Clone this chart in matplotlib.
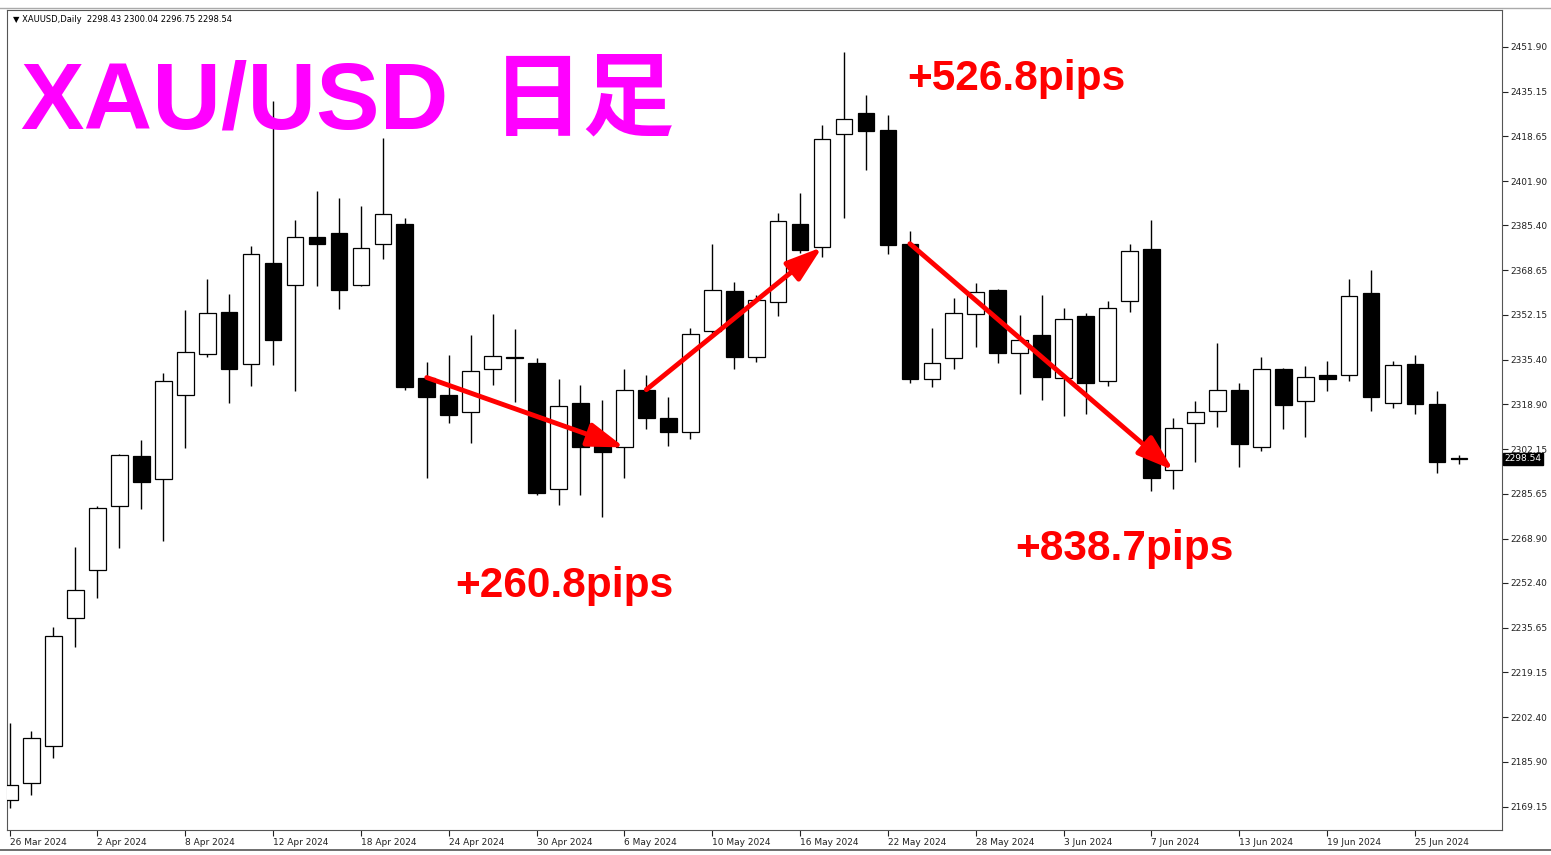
import matplotlib
matplotlib.use("Agg")
import matplotlib.pyplot as plt
import matplotlib.transforms as mtransforms
from matplotlib.lines import Line2D
import numpy as np

# daily candles, 26 Mar 2024 .. 27 Jun 2024
opens = [2171.7, 2178.0, 2191.8, 2239.4, 2257.2, 2281.0, 2299.7, 2291.0, 2322.2, 2337.7,
         2353.1, 2333.8, 2371.5, 2363.4, 2381.0, 2382.7, 2363.4, 2378.6, 2386.0, 2328.8,
         2322.2, 2316.0, 2332.1, 2336.3, 2334.2, 2287.3, 2319.4, 2303.3, 2302.8, 2324.3,
         2313.9, 2308.4, 2346.0, 2361.0, 2336.6, 2357.0, 2385.8, 2377.3, 2419.5, 2427.4,
         2421.0, 2378.6, 2328.4, 2335.9, 2352.3, 2361.2, 2337.9, 2344.5, 2328.8, 2351.8,
         2327.5, 2357.1, 2376.7, 2294.3, 2311.9, 2316.3, 2324.3, 2303.0, 2332.1, 2319.9,
         2329.6, 2329.9, 2360.4, 2319.4, 2334.0, 2319.1, 2298.43]
highs = [2200.3, 2197.4, 2236.0, 2265.7, 2281.0, 2300.3, 2305.5, 2330.4, 2354.0, 2365.4,
         2360.0, 2377.7, 2431.8, 2387.5, 2398.1, 2395.7, 2392.8, 2418.0, 2388.3, 2334.4,
         2337.3, 2344.8, 2352.3, 2346.7, 2336.2, 2328.4, 2326.2, 2320.6, 2331.9, 2329.9,
         2321.5, 2347.4, 2378.6, 2364.3, 2359.4, 2390.1, 2397.5, 2422.8, 2450.0, 2434.1,
         2426.6, 2383.5, 2347.4, 2358.5, 2364.1, 2361.6, 2351.9, 2359.6, 2354.8, 2353.0,
         2357.3, 2378.6, 2387.5, 2313.6, 2320.0, 2341.7, 2326.6, 2336.5, 2332.4, 2333.1,
         2335.0, 2365.3, 2368.7, 2334.9, 2337.1, 2323.7, 2300.04]
lows = [2168.8, 2173.4, 2187.3, 2228.4, 2246.6, 2265.4, 2279.7, 2268.0, 2302.7, 2336.5,
        2319.5, 2325.6, 2333.6, 2323.8, 2362.8, 2354.3, 2362.9, 2372.9, 2324.3, 2291.3,
        2311.7, 2304.6, 2326.2, 2319.7, 2285.1, 2281.3, 2285.1, 2277.0, 2291.6, 2309.6,
        2303.4, 2306.1, 2345.3, 2332.1, 2334.6, 2351.6, 2375.1, 2373.6, 2388.1, 2406.1,
        2374.9, 2326.8, 2325.3, 2332.1, 2340.2, 2334.2, 2322.5, 2320.4, 2314.4, 2315.4,
        2325.7, 2353.2, 2286.5, 2287.5, 2297.4, 2310.4, 2295.4, 2301.4, 2309.8, 2306.5,
        2323.7, 2327.5, 2316.4, 2317.5, 2315.2, 2293.3, 2296.75]
closes = [2177.3, 2194.8, 2232.7, 2249.8, 2280.2, 2299.9, 2290.1, 2327.6, 2338.3, 2353.0,
          2331.8, 2374.7, 2342.7, 2381.2, 2378.6, 2361.5, 2377.0, 2389.7, 2325.3, 2321.4,
          2314.9, 2331.1, 2336.7, 2336.0, 2285.7, 2318.1, 2302.8, 2301.0, 2324.3, 2313.6,
          2308.6, 2345.1, 2361.5, 2336.5, 2357.8, 2387.1, 2376.1, 2417.6, 2425.0, 2420.7,
          2378.0, 2328.4, 2334.2, 2352.8, 2360.5, 2337.9, 2342.7, 2329.0, 2350.7, 2326.8,
          2354.7, 2375.8, 2291.3, 2310.2, 2316.0, 2324.0, 2304.0, 2332.1, 2318.5, 2329.0,
          2328.4, 2359.0, 2321.4, 2333.4, 2318.9, 2297.4, 2298.54]

date_labels = ["26 Mar 2024", "2 Apr 2024", "8 Apr 2024", "12 Apr 2024", "18 Apr 2024",
               "24 Apr 2024", "30 Apr 2024", "6 May 2024", "10 May 2024", "16 May 2024",
               "22 May 2024", "28 May 2024", "3 Jun 2024", "7 Jun 2024", "13 Jun 2024",
               "19 Jun 2024", "25 Jun 2024"]
price_ticks = [2451.90, 2435.15, 2418.65, 2401.90, 2385.40, 2368.65, 2352.15, 2335.40,
               2318.90, 2302.15, 2285.65, 2268.90, 2252.40, 2235.65, 2219.15, 2202.40,
               2185.90, 2169.15]

# arrows go from the open of one candle to the open of another
arrow_from = [19, 29, 41]
arrow_to = [28, 37, 53]
pips_labels = ["+260.8pips", "+526.8pips", "+838.7pips"]
pips_x = [20.3, 40.9, 45.8]
pips_y = [2247.0, 2435.8, 2260.9]

o = np.array(opens)
h = np.array(highs)
l = np.array(lows)
c = np.array(closes)
x = np.arange(len(o))

fig = plt.figure(figsize=(15.51, 8.55), dpi=100)
ax = fig.add_axes([7 / 1551, 25 / 855, 1495 / 1551, 820 / 855])

# wicks
ax.vlines(x, l, h, color="black", lw=1.0, zorder=2)

# bodies
bull = c >= o
bottom = np.minimum(o, c)
height = np.maximum(np.abs(c - o), 0.35)
ax.bar(x[bull], height[bull], bottom=bottom[bull], width=0.76,
       color="white", edgecolor="black", lw=0.9, zorder=3)
ax.bar(x[~bull], height[~bull], bottom=bottom[~bull], width=0.76,
       color="black", edgecolor="black", lw=0.9, zorder=3)

ax.set_xlim(-0.114, 67.96)
ax.set_ylim(2160.44, 2465.56)

# right price axis
ax.yaxis.tick_right()
ax.set_yticks(price_ticks)
ax.set_yticklabels([f"{p:.2f}" for p in price_ticks], fontsize=6.5)
ax.tick_params(axis="y", direction="out", length=4, width=0.8, pad=2, colors="#222222")

# date axis
ax.set_xticks(np.arange(0, 4 * len(date_labels), 4))
ax.set_xticklabels(date_labels, fontsize=6.5)
for t in ax.get_xticklabels():
    t.set_ha("left")
ax.tick_params(axis="x", direction="out", length=4, width=0.8, pad=2, colors="#222222")

for sp in ax.spines.values():
    sp.set_color("#555555")
    sp.set_linewidth(0.8)

# current price box
trans = mtransforms.blended_transform_factory(ax.transAxes, ax.transData)
ax.text(1.0015, c[-1], f"{c[-1]:.2f}", transform=trans, fontsize=6.5, color="white",
        va="center", ha="left", zorder=10,
        bbox=dict(boxstyle="square,pad=0.15", fc="black", ec="black"))
ax.hlines(c[-1], x[-1] - 0.38, x[-1] + 0.38, color="black", lw=1.2, zorder=4)

# header
ax.text(0.004, 0.989, "▼ XAUUSD,Daily  2298.43 2300.04 2296.75 2298.54",
        transform=ax.transAxes, fontsize=6, va="center", ha="left", color="black")

# big title
ax.text(0.0087, 0.856, "XAU/USD", transform=ax.transAxes, fontsize=68.5,
        fontweight="bold", color="#FF00FF", va="baseline", ha="left",
        family=["Liberation Sans", "DejaVu Sans"], zorder=6)
ax.text(0.3245, 0.857, "日足", transform=ax.transAxes, fontsize=66,
        fontweight="bold", color="#FF00FF", va="baseline", ha="left",
        family=["Noto Sans CJK JP", "DejaVu Sans"], zorder=6)

# arrows
for a, b in zip(arrow_from, arrow_to):
    ax.annotate("", xy=(b, o[b]), xytext=(a, o[a]),
                arrowprops=dict(arrowstyle="-|>,head_length=1.0,head_width=0.33",
                                color="#FF0000", lw=3.5, mutation_scale=22,
                                shrinkA=0, shrinkB=0), zorder=7)

for lbl, px, py in zip(pips_labels, pips_x, pips_y):
    ax.text(px, py, lbl, fontsize=30.5, fontweight="bold", color="#FF0000",
            family=["Liberation Sans", "DejaVu Sans"], va="baseline", ha="left", zorder=8)

# window borders
fig.add_artist(Line2D([0, 1], [1 - 8 / 855, 1 - 8 / 855], transform=fig.transFigure,
                      color="#aaaaaa", lw=1))
fig.add_artist(Line2D([0, 1], [5 / 855, 5 / 855], transform=fig.transFigure,
                      color="#555555", lw=1.2))

fig.savefig("out.png", dpi=100)
